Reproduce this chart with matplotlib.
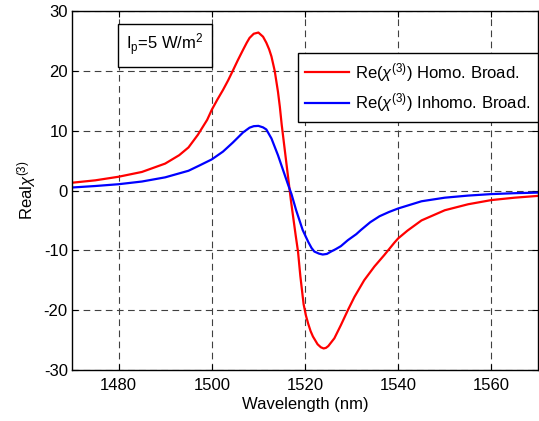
import matplotlib
matplotlib.use("Agg")
import matplotlib.pyplot as plt

plt.rcParams['font.family'] = ['Liberation Sans', 'DejaVu Sans']
plt.rcParams['mathtext.fontset'] = 'custom'
plt.rcParams['mathtext.rm'] = 'Liberation Sans'
plt.rcParams['mathtext.it'] = 'Liberation Sans:italic'
plt.rcParams['mathtext.bf'] = 'Liberation Sans:bold'
plt.rcParams['axes.unicode_minus'] = False

# Data
wl_homo = [1470, 1475, 1480, 1485, 1490, 1493, 1495, 1497, 1499, 1500, 1501.2, 1502.4,
           1503.5, 1504.5, 1505.6, 1506.7, 1507.5, 1508.1, 1509, 1510, 1511, 1511.7,
           1512.3, 1512.8, 1513.5, 1514.2, 1514.6, 1515, 1516, 1517, 1518, 1518.5,
           1519, 1519.7, 1520.2, 1520.7, 1521.2, 1521.7, 1522.7, 1523.4, 1524, 1524.5,
           1525, 1526.3, 1527.7, 1529.2, 1530.6, 1532.7, 1534.9, 1537, 1539.2, 1540,
           1542, 1545, 1550, 1555, 1560, 1565, 1570]
re_homo = [1.3, 1.7, 2.3, 3.1, 4.5, 5.9, 7.2, 9.3, 11.8, 13.5, 15.2, 16.8,
           18.4, 20.0, 21.8, 23.5, 24.7, 25.5, 26.2, 26.4, 25.7, 24.7,
           23.6, 22.4, 20.0, 16.5, 14.0, 11.0, 4.6, -1.8, -7.5, -10.2,
           -14.3, -19.0, -20.9, -22.3, -23.5, -24.4, -25.7, -26.2, -26.4, -26.3,
           -26.0, -24.7, -22.5, -20.0, -17.8, -15.0, -12.7, -10.8, -8.7, -8.0,
           -6.7, -5.0, -3.3, -2.3, -1.6, -1.2, -0.9]

wl_inhomo = [1470, 1475, 1480, 1485, 1490, 1495, 1497.4, 1500, 1502.4, 1504.5, 1506.7,
             1508.1, 1509, 1510, 1511, 1511.7, 1512.8, 1514.2, 1515.3, 1516.4, 1517.1,
             1518.1, 1519.5, 1520.7, 1521.4, 1522, 1523, 1523.8, 1524.7, 1525.6, 1526.6,
             1527.7, 1529.2, 1531, 1532, 1534, 1536, 1538, 1540, 1545, 1550, 1555, 1560,
             1565, 1570]
re_inhomo = [0.5, 0.75, 1.05, 1.5, 2.2, 3.3, 4.2, 5.2, 6.5, 8.0, 9.7,
             10.5, 10.75, 10.8, 10.55, 10.2, 8.7, 5.9, 3.4, 0.9, -0.6,
             -3.3, -6.6, -8.6, -9.6, -10.2, -10.55, -10.7, -10.6, -10.2, -9.8,
             -9.3, -8.3, -7.3, -6.6, -5.3, -4.3, -3.6, -3.0, -1.8, -1.2, -0.85, -0.6,
             -0.45, -0.35]

labels = [r'Re($\chi^{(3)}$) Homo. Broad.', r'Re($\chi^{(3)}$) Inhomo. Broad.']
xticks = [1480, 1500, 1520, 1540, 1560]
yticks = [-30, -20, -10, 0, 10, 20, 30]

fig = plt.figure(figsize=(5.39, 4.21), dpi=100)
ax = fig.add_axes([72/539, 1-370/421, 466/539, 359/421])

ax.plot(wl_homo, re_homo, color='#ff0000', lw=1.6, label=labels[0])
ax.plot(wl_inhomo, re_inhomo, color='#0000ff', lw=1.6, label=labels[1])

ax.set_xlim(1470, 1570)
ax.set_ylim(-30, 30)
ax.set_xticks(xticks)
ax.set_yticks(yticks)
ax.tick_params(direction='in', length=4, width=0.8, top=True, right=True,
               labelsize=12)
ax.tick_params(axis='y', pad=3)
ax.tick_params(axis='x', pad=6)
ax.grid(True, color='#404040', linestyle=(0, (6, 4)), linewidth=0.8)
for s in ax.spines.values():
    s.set_linewidth(1.0)
    s.set_color('black')

ax.set_xlabel('Wavelength (nm)', fontsize=12, labelpad=3)
ax.set_ylabel(r'Real$\chi^{(3)}$', fontsize=12, labelpad=4)

leg = ax.legend(loc='upper right', bbox_to_anchor=(1.0, (370-53.3)/359),
                borderaxespad=0, fontsize=12, handlelength=2.64,
                handletextpad=0.35, labelspacing=0.45, borderpad=0.45,
                fancybox=False, framealpha=1, edgecolor='black')
leg.get_frame().set_linewidth(1.0)

ax.text(0.116, 0.905, r'I$_{\rm p}$=5 W/m$^2$', transform=ax.transAxes,
        fontsize=12, va='center', ha='left',
        bbox=dict(boxstyle='square,pad=0.5', fc='white', ec='black', lw=1.0))

fig.savefig('out.png', dpi=100)
